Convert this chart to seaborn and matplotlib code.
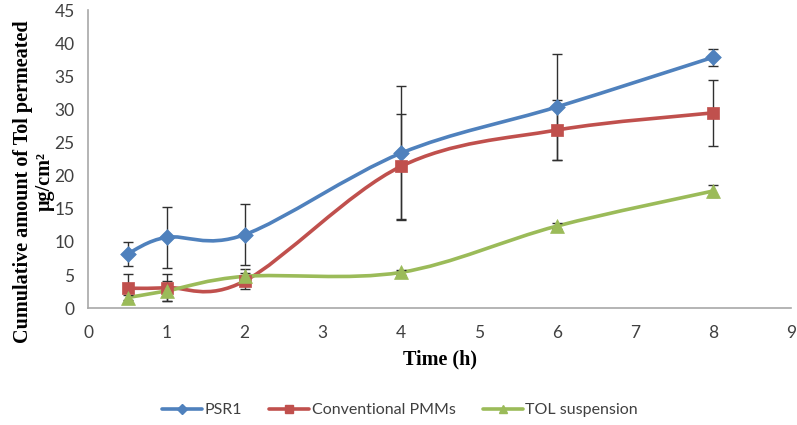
import numpy as np
import pandas as pd
import matplotlib
matplotlib.use("Agg")
import matplotlib.pyplot as plt
import seaborn as sns
from matplotlib.path import Path
from matplotlib.patches import PathPatch
from matplotlib.lines import Line2D

time_h = [0.5, 1, 2, 4, 6, 8]
psr1 = [8.2, 10.7, 11.1, 23.4, 30.4, 37.9]
psr1_err = [1.8, 4.6, 4.6, 10.1, 8.0, 1.3]
conv = [3.0, 3.1, 4.1, 21.4, 26.9, 29.5]
conv_err = [2.1, 2.0, 1.2, 7.9, 4.5, 5.0]
tol = [1.6, 2.6, 4.8, 5.4, 12.4, 17.7]
tol_err = [0.4, 1.5, 1.1, 0.4, 0.4, 0.9]
series_names = ["PSR1", "Conventional PMMs", "TOL suspension"]
x_ticks = list(range(0, 10))
y_ticks = list(range(0, 50, 5))

colors = ["#4F81BD", "#C0504D", "#9BBB59"]
markers = ["D", "s", "^"]
msizes = [8, 9, 10]

sns.set_theme(style="white")
plt.rcParams["font.family"] = ["Lato", "DejaVu Sans"]

fig = plt.figure(figsize=(7.97, 4.25), dpi=100)
ax = fig.add_axes([0.111, 0.275, 0.882, 0.701])

def smooth_path(xs, ys):
    pts = np.column_stack([xs, ys]).astype(float)
    n = len(pts)
    verts = [pts[0]]
    codes = [Path.MOVETO]
    for i in range(n - 1):
        p0 = pts[i - 1] if i > 0 else pts[i]
        p1 = pts[i]
        p2 = pts[i + 1]
        p3 = pts[i + 2] if i + 2 < n else pts[i + 1]
        c1 = p1 + (p2 - p0) / 6.0
        c2 = p2 - (p3 - p1) / 6.0
        verts += [c1, c2, p2]
        codes += [Path.CURVE4] * 3
    return Path(verts, codes)

all_vals = [(psr1, psr1_err), (conv, conv_err), (tol, tol_err)]
handles = []
for (vals, errs), name, c, m, ms in zip(all_vals, series_names, colors, markers, msizes):
    patch = PathPatch(smooth_path(time_h, vals), facecolor="none", edgecolor=c, lw=2.6, zorder=2)
    ax.add_patch(patch)
    ax.errorbar(time_h, vals, yerr=errs, fmt="none", ecolor="#303030", elinewidth=1.0,
                capsize=3.5, capthick=1.0, zorder=3)
    df = pd.DataFrame({"x": time_h, "y": vals})
    sns.scatterplot(data=df, x="x", y="y", marker=m, s=ms ** 2, color=c,
                    edgecolor=c, linewidth=0.5, ax=ax, zorder=4, legend=False)
    handles.append(Line2D([], [], color=c, lw=2.6, marker=m, markersize=ms * 0.6,
                          markeredgecolor=c, label=name))

ax.set_xlim(0, 9)
ax.set_ylim(0, 45)
ax.set_xticks(x_ticks)
ax.set_yticks(y_ticks)
ax.tick_params(axis="both", direction="out", length=4, width=1, color="#A0A0A0",
               labelsize=12.5, labelcolor="#404040", pad=8)
ax.tick_params(axis="y", pad=6)
for s in ["top", "right"]:
    ax.spines[s].set_visible(False)
for s in ["left", "bottom"]:
    ax.spines[s].set_color("#A8A8A8")
    ax.spines[s].set_linewidth(1.2)

ax.set_xlabel("Time (h)", fontfamily="Liberation Serif", fontweight="bold", fontsize=14.5,
              color="#000000", labelpad=6)
ax.set_ylabel("Cumulative amount of Tol permeated\nμg/cm²", fontfamily="Liberation Serif",
              fontweight="bold", fontsize=14.5, color="#000000", linespacing=1.1,
              multialignment="center")
ax.yaxis.set_label_coords(-0.048, 0.426)

fig.legend(handles=handles, loc="center", bbox_to_anchor=(0.502, 0.035), ncol=3, frameon=False,
           fontsize=11.5, handlelength=2.5, columnspacing=1.7, handletextpad=0.15,
           labelcolor="#404040")

fig.savefig("out.png", dpi=100)
